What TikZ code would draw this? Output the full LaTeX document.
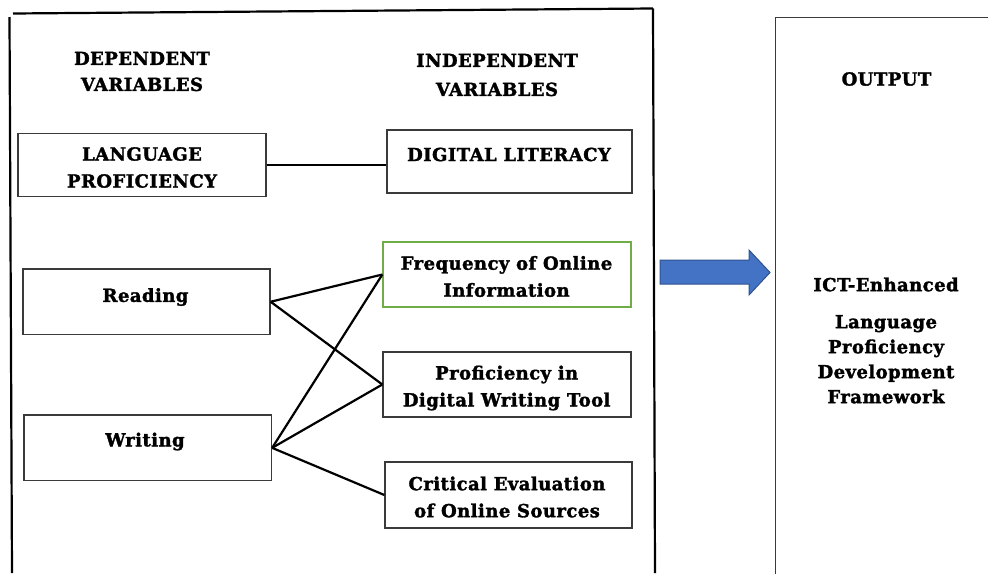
\documentclass[tikz,border=0pt]{standalone}
\usepackage{fontspec}
\setmainfont{DejaVu Serif}[LetterSpace=2.5, BoldFeatures={FakeBold=1.8}]
\definecolor{boxgray}{HTML}{3A3A3A}
\definecolor{boxgreen}{RGB}{112,173,71}
\definecolor{arrowfill}{HTML}{4472C4}
\definecolor{arrowline}{HTML}{2F528F}
\begin{document}
\begin{tikzpicture}[x=1pt,y=-1pt,
  box/.style={draw=boxgray, line width=1.3pt, inner sep=0pt},
  txt/.style={font=\bfseries\fontsize{18}{27}\selectfont, align=center, inner sep=0pt},
  frameline/.style={line width=2.2pt, draw=black},
  link/.style={line width=2.2pt, draw=black}]
\useasboundingbox (0,0) rectangle (988,573);
\clip (0,0) rectangle (988,573);

% outer frame of the variables panel
\coordinate (ftl) at (13,13.5);
\coordinate (ftr) at (653,8.5);
\coordinate (flt) at (9.5,17);
\coordinate (flb) at (12,573);
\coordinate (frb) at (655,573);
\draw[frameline] (ftl) -- (ftr);
\draw[frameline] (flt) -- (flb);
\draw[frameline] (ftr) -- (frb);

% column headings
\node[txt, font=\bfseries\fontsize{18}{26}\selectfont] (dep) at (142,71.5) {DEPENDENT\\VARIABLES};
\node[txt, font=\bfseries\fontsize{18}{29}\selectfont] (indep) at (497,75) {INDEPENDENT\\VARIABLES};

% boxes
\node[box, minimum width=248pt, minimum height=63pt] (lp) at (142,165) {};
\node[box, minimum width=245pt, minimum height=63pt] (dl) at (509.5,161.5) {};
\node[box, draw=boxgreen, minimum width=248pt, minimum height=65pt] (fq) at (507,274.5) {};
\node[box, minimum width=247pt, minimum height=65.5pt] (rd) at (146.5,301.75) {};
\node[box, minimum width=248pt, minimum height=65pt] (pd) at (507,384.5) {};
\node[box, minimum width=247.5pt, minimum height=65.7pt] (wr) at (147.75,447.85) {};
\node[box, minimum width=247pt, minimum height=66pt] (ce) at (508.5,495) {};

% box labels
\node[txt] (lpt) at (142,167.5) {LANGUAGE\\PROFICIENCY};
\node[txt] (dlt) at (509,154.5) {DIGITAL LITERACY};
\node[txt] (fqt) at (506.5,276.5) {Frequency of Online\\Information};
\node[txt] (rdt) at (145.5,297) {Reading};
\node[txt] (pdt) at (506.7,388) {Proficiency in\\Digital Writing Tool};
\node[txt] (wrt) at (145,441.5) {Writing};
\node[txt] (cet) at (507,497) {Critical Evaluation\\of Online Sources};

% connectors
\draw[link] (lp.east) -- (dl.west |- lp.east);
\draw[link] (rd.east) -- (fq.west);
\draw[link] (rd.east) -- (pd.west);
\draw[link] (wr.east) -- (fq.west);
\draw[link] (wr.east) -- (pd.west);
\draw[link] (wr.east) -- (ce.west);

% block arrow towards the output
\filldraw[fill=arrowfill, draw=arrowline, line width=1pt]
  (660,260) -- (749,260) -- (749,250) -- (770,272.5) -- (749,295) -- (749,284) -- (660,284) -- cycle;

% output panel
\node[draw=boxgray, line width=1.3pt, inner sep=0pt, minimum width=240pt, minimum height=600pt, anchor=north west] (ob) at (775,17) {};
\node[txt] (outt) at (886.5,79) {OUTPUT};
\node[txt, font=\bfseries\fontsize{18}{25}\selectfont] (ict) at (886,340.5) {ICT-Enhanced\\[12pt]Language\\Proficiency\\Development\\Framework};
\end{tikzpicture}
\end{document}
